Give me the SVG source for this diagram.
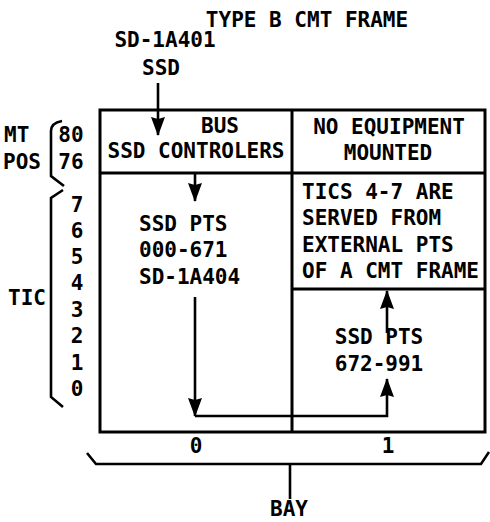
<svg xmlns="http://www.w3.org/2000/svg" width="490" height="522" viewBox="0 0 490 522">
<style>
text{font-family:"DejaVu Sans Mono","Liberation Mono",monospace;font-weight:bold;font-size:21px;fill:#000}
.m{text-anchor:middle}
.ln{fill:none;stroke:#000;stroke-width:3;stroke-linejoin:miter}
.ar{fill:none;stroke:#000;stroke-width:2.6}
</style>
<defs>
<marker id="ah" viewBox="0 0 19 14" refX="18" refY="7" markerWidth="19" markerHeight="14" markerUnits="userSpaceOnUse" orient="auto">
<path d="M0,0 L19,7 L0,14 L2,7 Z" fill="#000"/>
</marker>
</defs>
<rect width="490" height="522" fill="#fff"/>
<g id="title">
<text class="m" x="307" y="27">TYPE B CMT FRAME</text>
<text class="m" x="165" y="47">SD-1A401</text>
<text class="m" x="161" y="75">SSD</text>
</g>
<g id="frame">
<rect class="ln" x="100" y="110" width="385" height="322"/>
<line class="ln" x1="292" y1="110" x2="292" y2="432"/>
<line class="ln" x1="100" y1="173" x2="485" y2="173"/>
<line class="ln" x1="292" y1="289" x2="485" y2="289"/>
</g>
<g id="bus-cell">
<text class="m" x="220" y="133">BUS</text>
<text class="m" x="196" y="158">SSD CONTROLERS</text>
</g>
<g id="no-equip-cell">
<text class="m" x="389" y="134">NO EQUIPMENT</text>
<text class="m" x="388" y="160">MOUNTED</text>
</g>
<g id="pts-0">
<text x="139" y="231">SSD PTS</text>
<text x="139" y="257">000-671</text>
<text x="139" y="284">SD-1A404</text>
</g>
<g id="tics-note">
<text x="302" y="199">TICS 4-7 ARE</text>
<text x="302" y="225">SERVED FROM</text>
<text x="302" y="252">EXTERNAL PTS</text>
<text x="302" y="278">OF A CMT FRAME</text>
</g>
<g id="pts-1">
<text class="m" x="379" y="344">SSD PTS</text>
<text class="m" x="379" y="371">672-991</text>
</g>
<g id="mt-pos">
<text x="4" y="142">MT</text>
<text x="3" y="169">POS</text>
<text class="m" x="71" y="142">80</text>
<text class="m" x="71" y="169">76</text>
<path class="ar" d="M62,121 Q51,123 51,131 V176 L64,186"/>
</g>
<g id="tic">
<text x="8" y="305">TIC</text>
<text class="m" x="77" y="212">7</text>
<text class="m" x="77" y="238">6</text>
<text class="m" x="77" y="264">5</text>
<text class="m" x="77" y="290">4</text>
<text class="m" x="77" y="317">3</text>
<text class="m" x="77" y="343">2</text>
<text class="m" x="77" y="370">1</text>
<text class="m" x="77" y="396">0</text>
<path class="ar" d="M63,190 L51,198 V397 L63,407"/>
</g>
<g id="bay">
<text class="m" x="196" y="453">0</text>
<text class="m" x="388" y="453">1</text>
<path class="ar" d="M87,453 L96,464 H481 L489,452"/>
<line class="ar" x1="290" y1="464" x2="290" y2="499"/>
<text class="m" x="289" y="516">BAY</text>
</g>
<g id="connectors">
<line class="ar" x1="158" y1="83" x2="158" y2="135" marker-end="url(#ah)"/>
<line class="ar" x1="195" y1="173" x2="195" y2="201" marker-end="url(#ah)"/>
<line class="ar" x1="195" y1="297" x2="195" y2="416" marker-end="url(#ah)"/>
<polyline class="ar" points="195,416 387,416 387,379" marker-end="url(#ah)"/>
<line class="ar" x1="387" y1="333" x2="387" y2="291" marker-end="url(#ah)"/>
</g>
</svg>
